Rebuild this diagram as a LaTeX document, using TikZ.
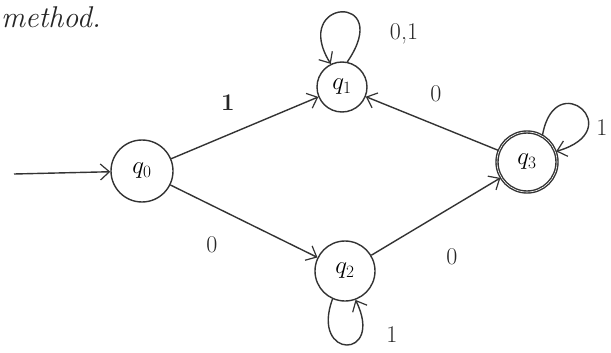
\documentclass[tikz,border=0pt]{standalone}
\usetikzlibrary{arrows.meta,automata}
\begin{document}
\begin{tikzpicture}[x=1pt,y=-1pt,
  ink/.style={draw=black!80,line width=1.4pt},
  st/.style={state,ink,inner sep=0pt,font=\fontsize{26}{28}\selectfont},
  tr/.style={ink,-{Straight Barb[length=9pt,width=16pt,line width=1.2pt]}},
  lbl/.style={font=\fontsize{24}{26}\selectfont,text=black!85}]
\useasboundingbox (0,0) rectangle (611,353);
\node[lbl,anchor=west,font=\fontsize{30}{32}\selectfont\itshape,inner sep=0pt] (title) at (1,17) {method.};
\node[st,minimum size=62pt] (q0) at (142,171) {$q_0$};
\node[st,minimum size=50pt] (q1) at (342,87) {$q_1$};
\node[st,minimum size=60pt] (q2) at (345,271) {$q_2$};
\node[st,accepting,minimum size=60pt] (q3) at (527,162) {$q_3$};
\coordinate (s) at (14,174);
\draw[tr] (s) -- (q0);
\draw[tr] (q0) -- (q1);
\draw[tr] (q0) -- (q2);
\draw[tr] (q2) -- (q3);
\draw[tr] (q3) -- (q1);
\node[lbl,font=\fontsize{24}{26}\selectfont\bfseries] (l01) at (228,103) {1};
\node[lbl] (l02) at (212,245) {0};
\node[lbl] (l23) at (452,257) {0};
\node[lbl] (l31) at (436,94) {0};
\draw[tr] (q1.78) .. controls (395,-8) and (290,-2) .. (q1.116);
\node[lbl] (l11) at (404,34) {0,1};
\draw[tr] (q3.60) .. controls (555,65) and (630,130) .. (q3.20);
\node[lbl] (l33) at (602,128) {1};
\draw[tr] (q2.-114) .. controls (310,360) and (385,360) .. (q2.-70);
\node[lbl] (l22) at (392,335) {1};
\end{tikzpicture}
\end{document}
